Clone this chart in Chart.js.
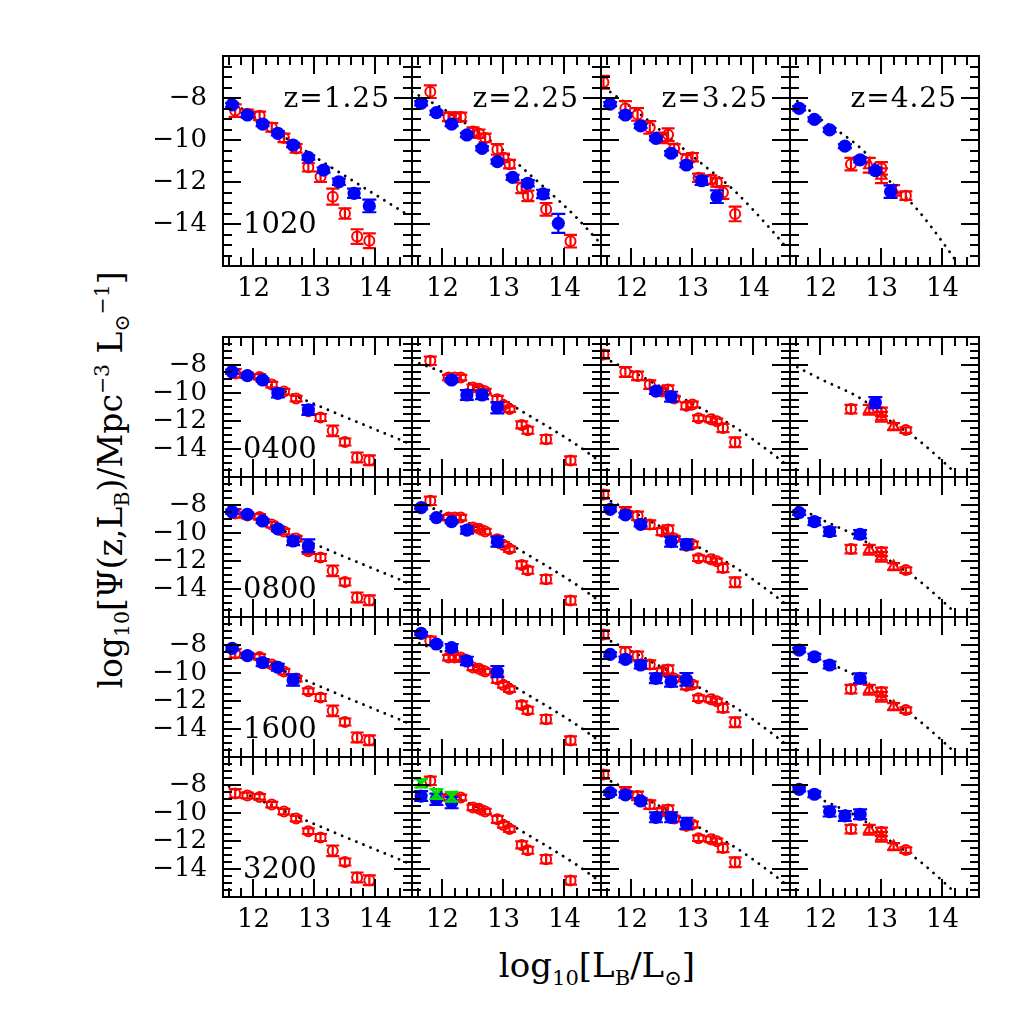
<!DOCTYPE html>
<html>
<head>
<meta charset="utf-8">
<script src="https://cdn.jsdelivr.net/npm/chart.js@4.4.1/dist/chart.umd.min.js"></script>
<style>
body { margin: 0; background: #fff; width: 1035px; height: 1035px; position: relative; overflow: hidden; }
canvas.panel { position: absolute; }
.ttl { position: absolute; font-family: 'DejaVu Serif', serif; font-size: 34px; color: #000; white-space: nowrap; line-height: 1; }
.ttl sub { font-size: 0.62em; vertical-align: -0.35em; }
.ttl sup { font-size: 0.62em; vertical-align: 0.65em; }
#xtitle { left: 597px; top: 968px; transform: translate(-50%, -50%); }
#ytitle { left: 112px; top: 480px; transform: translate(-50%, -50%) rotate(-90deg); font-size: 33px; }
</style>
</head>
<body>
<div class="ttl" id="xtitle">log<sub>10</sub>[L<sub>B</sub>/L<sub>⊙</sub>]</div>
<div class="ttl" id="ytitle">log<sub>10</sub>[Ψ(z,L<sub>B</sub>)/Mpc<sup>−3</sup> L<sub>⊙</sub><sup>−1</sup>]</div>
<script>
// axis limits and tick labels
const xMin = 11.5, xMax = 14.6
const yMin = -16, yMax = -6
const xTicks = [12, 13, 14]
const yTicks = [-8, -10, -12, -14]
const zLabels = ['z=1.25', 'z=2.25', 'z=3.25', 'z=4.25']
const rowLabels = ['1020', '0400', '0800', '1600', '3200']

// observed points (red), one set per column, same in every row
const redX1 = [11.7, 11.9, 12.1, 12.3, 12.5, 12.7, 12.9, 13.1, 13.3, 13.5, 13.7, 13.9]
const redY1 = [-8.6, -8.75, -8.85, -9.4, -9.9, -10.4, -11.3, -11.75, -12.7, -13.5, -14.6, -14.8]
const redE1 = [0.3, 0.2, 0.2, 0.2, 0.2, 0.2, 0.2, 0.25, 0.38, 0.25, 0.35, 0.35]

const redX2 = [11.8, 12.1, 12.2, 12.3, 12.5, 12.6, 12.7, 12.9, 13.0, 13.1, 13.3, 13.4, 13.7, 14.1]
const redY2 = [-7.7, -8.9, -8.9, -8.9, -9.6, -9.7, -9.9, -10.45, -10.85, -11.15, -12.28, -12.66, -13.3, -14.82]
const redE2 = [0.3, 0.2, 0.2, 0.2, 0.2, 0.2, 0.2, 0.25, 0.2, 0.2, 0.25, 0.25, 0.3, 0.3]

const redX3 = [11.54, 11.9, 12.1, 12.3, 12.5, 12.6, 12.7, 12.9, 13.0, 13.1, 13.3, 13.4, 13.5, 13.7]
const redY3 = [-7.25, -8.5, -8.78, -9.4, -9.9, -9.75, -10.4, -10.92, -10.82, -11.8, -11.88, -12.02, -12.5, -13.52]
const redE3 = [0.3, 0.35, 0.3, 0.3, 0.25, 0.3, 0.2, 0.25, 0.2, 0.2, 0.2, 0.2, 0.3, 0.35]

const redX4 = [12.5, 13.0, 13.4]
const redY4 = [-11.15, -11.35, -12.65]
const redE4 = [0.3, 0.3, 0.2]
const triX4 = [12.8, 13.0, 13.2]
const triY4 = [-11.2, -11.7, -12.4]
const triE4 = [0.35, 0.35, 0.25]

// dotted model curve per column
const dotX1 = [11.6, 12.87, 14.55]
const dotY1 = [-8.1, -10.55, -13.6]
const dotX2 = [11.5, 12.0, 12.5, 13.0, 13.3, 13.8, 14.2, 14.6]
const dotY2 = [-7.7, -8.5, -9.45, -10.5, -11.3, -12.6, -13.7, -14.95]
const dotX3 = [11.55, 12.0, 12.5, 13.1, 13.7, 14.3, 14.55]
const dotY3 = [-7.5, -8.45, -9.6, -11.0, -12.45, -14.3, -15.15]
const dotX4 = [11.62, 12.0, 12.7, 13.05, 13.6, 14.0, 14.22]
const dotY4 = [-8.15, -9.0, -10.5, -11.7, -13.35, -14.85, -15.75]

// simulated points (blue), per row, one list per column (null = no point)
const blueX = [11.65, 11.9, 12.15, 12.4, 12.65, 12.9, 13.15, 13.4, 13.65, 13.9]

const blue1020 = [
    [-8.33, -8.81, -9.24, -9.68, -10.24, -10.83, -11.43, -11.99, -12.54, -13.14],
    [-8.25, -8.7, -9.24, -9.76, -10.4, -11.03, -11.78, -12.06, -12.57, -13.97],
    [-8.29, -8.81, -9.33, -9.92, -10.63, -11.19, -11.94, -12.7],
    [-8.49, -9.02, -9.52, -10.29, -10.95, -11.46, -12.46]
]
const blue1020Err = [
    [0.1, 0.1, 0.1, 0.1, 0.1, 0.1, 0.12, 0.15, 0.22, 0.3],
    [0.1, 0.1, 0.1, 0.1, 0.1, 0.1, 0.12, 0.15, 0.2, 0.45],
    [0.1, 0.1, 0.1, 0.1, 0.1, 0.1, 0.2, 0.3],
    [0.1, 0.1, 0.1, 0.1, 0.12, 0.12, 0.3]
]
const blue0400 = [
    [-8.48, -8.76, -9.07, -10.02, null, -11.21],
    [null, null, -9.07, -10.14, -10.14, -11.05],
    [null, null, null, -9.86, -10.26],
    [null, null, null, null, null, -10.69]
]
const blue0400Err = [
    [0.15, 0.1, 0.12, 0.3, 0, 0.35],
    [0, 0, 0.15, 0.35, 0.3, 0.4],
    [0, 0, 0, 0.2, 0.35],
    [0, 0, 0, 0, 0, 0.4]
]
const blue0800 = [
    [-8.48, -8.66, -9.14, -9.71, -10.57, -10.91],
    [-8.19, -8.9, -9.19, -9.79, null, -10.62],
    [-8.31, -8.71, -9.38, null, -10.62, -10.81],
    [-8.55, -9.19, -9.9, null, -10.09]
]
const blue0800Err = [
    [0.15, 0.1, 0.15, 0.15, 0.3, 0.45],
    [0.1, 0.1, 0.1, 0.25, 0, 0.35],
    [0.15, 0.15, 0.15, 0, 0.35, 0.35],
    [0.15, 0.25, 0.3, 0, 0.3]
]
const blue1600 = [
    [-8.24, -8.76, -9.26, -9.59, -10.5],
    [-7.17, -7.93, -8.19, -9.14, null, -9.9],
    [-8.67, -9.02, -9.43, -10.38, -10.62, -10.45],
    [-8.36, -8.84, -9.43, null, -10.38]
]
const blue1600Err = [
    [0.15, 0.15, 0.25, 0.25, 0.4],
    [0.1, 0.1, 0.25, 0.3, 0, 0.4],
    [0.15, 0.2, 0.25, 0.35, 0.35, 0.45],
    [0.15, 0.2, 0.25, 0, 0.35]
]
const blue3200 = [
    [],
    [-8.79, -9.02, -9.26],
    [-8.55, -8.71, -9.14, -10.31, -10.31, -10.74],
    [-8.31, -8.66, -9.9, -10.21, -10.09]
]
const blue3200Err = [
    [],
    [0.35, 0.4, 0.4],
    [0.15, 0.2, 0.2, 0.35, 0.35, 0.4],
    [0.15, 0.2, 0.35, 0.35, 0.35]
]
// green points, 3200 row, second column
const greenX = [11.65, 11.9, 12.15]
const greenY = [-7.88, -8.64, -8.84]
const greenErr = [0.3, 0.35, 0.35]

// layout of the panels on the page
const colLeft = [223, 412, 601, 790]
const colW = 189
const rowTop = [56, 337, 477, 617, 757]
const rowH = [210, 140, 140, 140, 140]
const M = 90

const blueRows = [blue1020, blue0400, blue0800, blue1600, blue3200]
const blueErrRows = [blue1020Err, blue0400Err, blue0800Err, blue1600Err, blue3200Err]
const redXs = [redX1, redX2, redX3, redX4]
const redYs = [redY1, redY2, redY3, redY4]
const redEs = [redE1, redE2, redE3, redE4]
const dotXs = [dotX1, dotX2, dotX3, dotX4]
const dotYs = [dotY1, dotY2, dotY3, dotY4]

function pts(xs, ys) {
    let out = []
    for (let i = 0; i < ys.length; i++) out.push({x: xs[i], y: ys[i]})
    return out
}

const errorBars = {
    id: 'errorBars',
    beforeDatasetDraw(chart, args) {
        const ds = chart.data.datasets[args.index]
        if (!ds.errs) return
        const {ctx, chartArea: a, scales: {x, y}} = chart
        ctx.save()
        ctx.beginPath()
        ctx.rect(a.left, a.top, a.right - a.left, a.bottom - a.top)
        ctx.clip()
        ctx.strokeStyle = ds.borderColor
        ctx.lineWidth = 2.2
        ds.data.forEach((p, i) => {
            const e = ds.errs[i]
            if (p.y == null || !e) return
            const px = x.getPixelForValue(p.x)
            const y1 = y.getPixelForValue(p.y + e)
            const y2 = y.getPixelForValue(p.y - e)
            const w = ds.capW
            ctx.beginPath()
            ctx.moveTo(px, y1); ctx.lineTo(px, y2)
            ctx.moveTo(px - w, y1); ctx.lineTo(px + w, y1)
            ctx.moveTo(px - w, y2); ctx.lineTo(px + w, y2)
            ctx.stroke()
        })
        ctx.restore()
    }
}

const panelDeco = {
    id: 'panelDeco',
    afterDraw(chart, args, opts) {
        const {ctx, chartArea: a, scales: {x, y}} = chart
        ctx.save()
        ctx.strokeStyle = '#000'
        ctx.lineWidth = 2
        ctx.strokeRect(a.left, a.top, a.right - a.left, a.bottom - a.top)
        ctx.beginPath()
        for (let k = 58; k <= 73; k++) {
            const v = k / 5
            if (v <= xMin + 0.01 || v >= xMax - 0.01) continue
            const px = Math.round(x.getPixelForValue(v))
            const len = k % 5 === 0 ? 18 : 9
            ctx.moveTo(px, a.top); ctx.lineTo(px, a.top + len)
            ctx.moveTo(px, a.bottom); ctx.lineTo(px, a.bottom - len)
        }
        for (let k = -31; k <= -13; k++) {
            const v = k / 2
            const py = Math.round(y.getPixelForValue(v))
            const len = k % 4 === 0 ? 18 : 9
            ctx.moveTo(a.left, py); ctx.lineTo(a.left + len, py)
            ctx.moveTo(a.right, py); ctx.lineTo(a.right - len, py)
        }
        ctx.stroke()

        ctx.fillStyle = '#000'
        ctx.font = '26px "DejaVu Serif"'
        if (opts.col === 0) {
            ctx.textAlign = 'right'
            ctx.textBaseline = 'middle'
            yTicks.forEach(v => ctx.fillText('\u2212' + Math.abs(v), a.left - 16, y.getPixelForValue(v)))
        }
        if (opts.row === 0 || opts.row === 4) {
            ctx.textAlign = 'center'
            ctx.textBaseline = 'top'
            xTicks.forEach(v => ctx.fillText(String(v), x.getPixelForValue(v), a.bottom + 10))
        }
        if (opts.row === 0) {
            ctx.font = '28px "DejaVu Serif"'
            ctx.letterSpacing = '1px'
            ctx.textAlign = 'right'
            ctx.textBaseline = 'alphabetic'
            ctx.fillText(zLabels[opts.col], a.right - 22, a.top + 51)
            ctx.letterSpacing = '0px'
        }
        if (opts.col === 0) {
            ctx.font = '29px "DejaVu Serif"'
            ctx.textAlign = 'left'
            ctx.textBaseline = 'middle'
            ctx.fillText(rowLabels[opts.row], a.left + 20, y.getPixelForValue(-14) + 1)
        }
        ctx.restore()
    }
}

function makePanel(r, c) {
    const cv = document.createElement('canvas')
    cv.className = 'panel'
    const w = colW + 2 * M, h = rowH[r] + 2 * M
    cv.width = w
    cv.height = h
    cv.style.width = w + 'px'
    cv.style.height = h + 'px'
    cv.style.left = (colLeft[c] - M) + 'px'
    cv.style.top = (rowTop[r] - M) + 'px'
    document.body.appendChild(cv)

    let datasets = []
    if (r === 4 && c === 1) {
        datasets.push({
            data: pts(greenX, greenY), errs: greenErr, capW: 7,
            pointStyle: 'crossRot', pointRadius: 7, borderColor: '#00e000',
            backgroundColor: '#00e000', pointBorderWidth: 2.5
        })
    }
    const by = blueRows[r][c]
    if (by.length) {
        datasets.push({
            data: pts(blueX, by), errs: blueErrRows[r][c], capW: 7,
            pointStyle: 'circle', pointRadius: 6.6, borderColor: '#0000ff',
            backgroundColor: '#0000ff', pointBorderWidth: 0
        })
    }
    datasets.push({
        data: pts(redXs[c], redYs[c]), errs: redEs[c], capW: 6.5,
        pointStyle: 'circle', pointRadius: 5, borderColor: '#ff0000',
        backgroundColor: 'rgba(0,0,0,0)', pointBorderWidth: 2
    })
    if (c === 3) {
        datasets.push({
            data: pts(triX4, triY4), errs: triE4, capW: 6.5,
            pointStyle: 'triangle', pointRadius: 6, borderColor: '#ff0000',
            backgroundColor: 'rgba(0,0,0,0)', pointBorderWidth: 2
        })
    }
    datasets.push({
        data: pts(dotXs[c], dotYs[c]), showLine: true, pointRadius: 0,
        borderColor: '#000', borderWidth: 2.8, borderDash: [0.1, 7.6],
        borderCapStyle: 'round', cubicInterpolationMode: 'monotone', fill: false
    })

    new Chart(cv, {
        type: 'scatter',
        data: {datasets},
        options: {
            responsive: false,
            animation: false,
            events: [],
            layout: {padding: M},
            plugins: {
                legend: {display: false},
                tooltip: {enabled: false},
                panelDeco: {row: r, col: c}
            },
            scales: {
                x: {type: 'linear', min: xMin, max: xMax, display: false},
                y: {type: 'linear', min: yMin, max: yMax, display: false}
            }
        },
        plugins: [errorBars, panelDeco]
    })
}

for (let r = 0; r < 5; r++)
    for (let c = 0; c < 4; c++)
        makePanel(r, c)
</script>
</body>
</html>
